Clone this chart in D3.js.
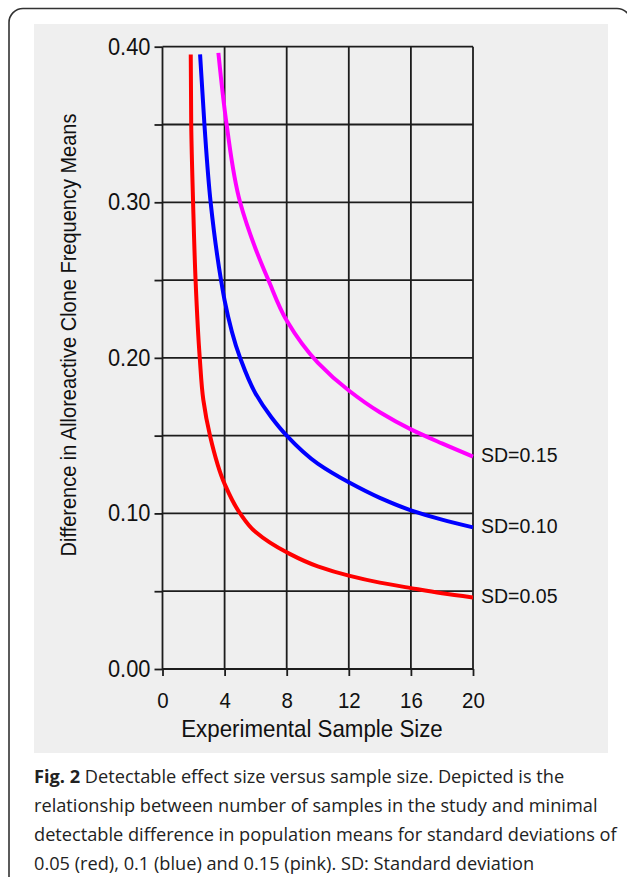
<!DOCTYPE html>
<html><head><meta charset="utf-8">
<script src="https://cdn.jsdelivr.net/npm/d3@7"></script>
<style>body{margin:0;background:#fff}svg{display:block}</style>
</head><body>
<svg id="c" width="627" height="877"></svg>
<script>
// ---- data ----
const seriesNames = ["SD=0.05", "SD=0.10", "SD=0.15"];
const seriesColors = ["#ff0000", "#0000ff", "#ff00ff"];
const redX = [1.82, 1.85, 1.97, 2.13, 2.40, 2.63, 3.06, 4.0, 5.0, 6.0, 8.0, 10, 12, 14, 16, 18, 20];
const redY = [0.395, 0.35, 0.30, 0.25, 0.20, 0.173, 0.15, 0.119, 0.100, 0.088, 0.075, 0.066, 0.060, 0.0555, 0.052, 0.0487, 0.046];
const blueX = [2.42, 2.7, 3.1, 3.77, 4.0, 5.0, 6.0, 7.0, 8, 10, 12, 14, 16, 18, 20];
const blueY = [0.395, 0.35, 0.30, 0.25, 0.237, 0.20, 0.177, 0.162, 0.150, 0.132, 0.120, 0.110, 0.102, 0.096, 0.091];
const pinkX = [3.6, 4.13, 5.0, 6.0, 6.82, 8, 10, 12, 14, 16, 18, 20];
const pinkY = [0.396, 0.35, 0.30, 0.27, 0.25, 0.224, 0.197, 0.179, 0.165, 0.154, 0.145, 0.1365];
const xTicks = [0, 4, 8, 12, 16, 20];
const yTicks = [0, 0.05, 0.10, 0.15, 0.20, 0.25, 0.30, 0.35, 0.40];
const yLabelled = ["0.00", "0.10", "0.20", "0.30", "0.40"];
const xTitle = "Experimental Sample Size";
const yTitle = "Difference in Alloreactive Clone Frequency Means";
const captionBold = "Fig. 2";
const captionLines = [
  " Detectable effect size versus sample size. Depicted is the",
  "relationship between number of samples in the study and minimal",
  "detectable difference in population means for standard deviations of",
  "0.05 (red), 0.1 (blue) and 0.15 (pink). SD: Standard deviation"
];

const series = [
  {name: seriesNames[0], color: seriesColors[0], pts: redX.map((d, i) => [d, redY[i]])},
  {name: seriesNames[1], color: seriesColors[1], pts: blueX.map((d, i) => [d, blueY[i]])},
  {name: seriesNames[2], color: seriesColors[2], pts: pinkX.map((d, i) => [d, pinkY[i]])}
];

// ---- drawing ----
const svg = d3.select("#c");
const SQ = 0.93; // horizontal condensing of chart font
const FONT = "'Liberation Sans', Arial, sans-serif";

// outer frame
svg.append("rect").attr("x", 9).attr("y", 8.5).attr("width", 622).attr("height", 920)
  .attr("rx", 14).attr("fill", "none").attr("stroke", "#333").attr("stroke-width", 1.6);
// gray panel
svg.append("rect").attr("x", 34).attr("y", 24).attr("width", 574).attr("height", 729)
  .attr("fill", "#efefef");

const x = d3.scaleLinear().domain([0, 20]).range([162.5, 473]);
const y = d3.scaleLinear().domain([0, 0.4]).range([669, 46.7]);

const grid = svg.append("g").attr("stroke", "#1c1c1c").attr("stroke-width", 1.8);
grid.selectAll("line.v").data(xTicks).join("line").attr("class", "v")
  .attr("x1", d => x(d)).attr("x2", d => x(d)).attr("y1", y(0)).attr("y2", y(0.4));
grid.selectAll("line.h").data(yTicks).join("line").attr("class", "h")
  .attr("y1", d => y(d)).attr("y2", d => y(d)).attr("x1", x(0)).attr("x2", x(20));

// axes
const yAx = svg.append("g").attr("transform", `translate(${x(0)},0)`)
  .call(d3.axisLeft(y).tickValues(yTicks).tickSize(8).tickPadding(4.9)
    .tickFormat(d => { const s = d3.format(".2f")(d); return yLabelled.includes(s) ? s : ""; }));
yAx.select(".domain").remove();
yAx.selectAll(".tick line").attr("stroke", "#1c1c1c").attr("stroke-width", 1.8);
yAx.selectAll(".tick text").attr("font-family", FONT).attr("font-size", 23.5).attr("fill", "#111")
  .attr("transform", `scale(${SQ},1)`);

const xAx = svg.append("g").attr("transform", `translate(0,${y(0)})`)
  .call(d3.axisBottom(x).tickValues(xTicks).tickSize(7).tickPadding(16));
xAx.select(".domain").remove();
xAx.selectAll(".tick line").attr("stroke", "#1c1c1c").attr("stroke-width", 1.8);
xAx.selectAll(".tick text").attr("font-family", FONT).attr("font-size", 22).attr("fill", "#111")
  .attr("transform", `scale(${SQ},1)`);

// curves
const line = d3.line().x(d => x(d[0])).y(d => y(d[1])).curve(d3.curveMonotoneY);
svg.append("g").selectAll("path").data(series).join("path")
  .attr("d", d => line(d.pts)).attr("fill", "none").attr("stroke", d => d.color)
  .attr("stroke-width", 4);

// series labels
svg.append("g").selectAll("text").data(series).join("text")
  .attr("transform", d => {
    const p = d.pts[d.pts.length - 1];
    return `translate(${x(p[0]) + 8},${y(p[1]) - 2}) scale(${SQ},1)`;
  })
  .attr("dy", "0.36em").attr("font-family", FONT).attr("font-size", 21).attr("fill", "#111")
  .text(d => d.name);

// axis titles
svg.append("text").attr("transform", `translate(312,737) scale(${SQ},1)`)
  .attr("text-anchor", "middle").attr("font-family", FONT).attr("font-size", 24).attr("fill", "#111")
  .text(xTitle);
svg.append("text").attr("transform", `translate(76,335) rotate(-90) scale(${SQ},1)`)
  .attr("text-anchor", "middle").attr("font-family", FONT).attr("font-size", 21.5).attr("fill", "#111")
  .text(yTitle);

// caption
const cap = svg.append("g").attr("font-family", "'Open Sans', 'Noto Sans', sans-serif")
  .attr("font-size", 18.2).attr("fill", "#222");
captionLines.forEach((t, i) => {
  const tx = cap.append("text").attr("x", 34).attr("y", 783 + i * 29);
  if (i === 0) tx.append("tspan").attr("font-weight", "bold").text(captionBold);
  tx.append("tspan").text(t);
});
</script>
</body></html>
